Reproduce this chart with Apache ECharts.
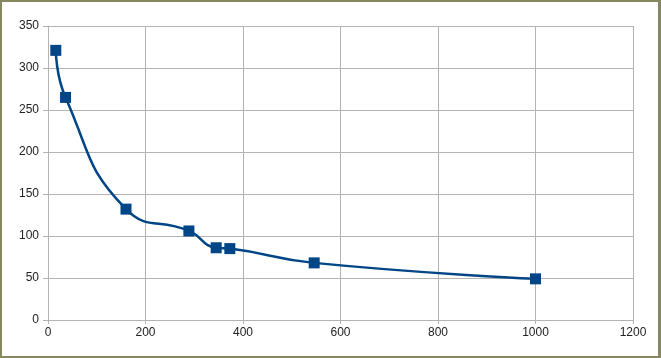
<!DOCTYPE html>
<html>
<head>
<meta charset="utf-8">
<script src="https://cdn.jsdelivr.net/npm/echarts@6/dist/echarts.min.js"></script>
<style>
html,body{margin:0;padding:0;background:#fff;}
#wrap{position:absolute;left:0;top:0;width:661px;height:358px;box-sizing:border-box;border:2px solid #878760;border-right-width:3px;}
#chart{position:absolute;left:-2px;top:-2px;width:661px;height:358px;}
</style>
</head>
<body>
<div id="wrap"><div id="chart"></div></div>
<script>
const xValues = [16, 36, 160, 289, 345, 373, 546, 1000];
const yValues = [321, 265, 132, 106, 86, 85, 68, 49];
const xTicks = {min: 0, max: 1200, interval: 200};
const yTicks = {min: 0, max: 350, interval: 50};

const chart = echarts.init(document.getElementById('chart'), null, {renderer: 'canvas'});
const gridLine = {show: true, lineStyle: {color: '#b3b3b3', width: 1}};
const labelStyle = {color: '#222', fontFamily: 'Liberation Sans, Arial, sans-serif', fontSize: 12};
chart.setOption({
  animation: false,
  backgroundColor: 'transparent',
  grid: {left: 48, right: 28, top: 26, bottom: 38, containLabel: false},
  xAxis: {
    type: 'value', min: xTicks.min, max: xTicks.max, interval: xTicks.interval,
    axisLine: {show: true, lineStyle: {color: '#b3b3b3'}},
    axisTick: {show: true, length: 4, lineStyle: {color: '#b3b3b3'}},
    splitLine: gridLine,
    axisLabel: Object.assign({margin: 7, formatter: v => String(v)}, labelStyle)
  },
  yAxis: {
    type: 'value', min: yTicks.min, max: yTicks.max, interval: yTicks.interval,
    axisLine: {show: true, lineStyle: {color: '#b3b3b3'}},
    axisTick: {show: true, length: 5, lineStyle: {color: '#b3b3b3'}},
    splitLine: gridLine,
    axisLabel: Object.assign({margin: 9, formatter: v => String(v)}, labelStyle)
  },
  series: [{
    type: 'line',
    data: xValues.map((x, i) => [x, yValues[i]]),
    smooth: 0.5,
    symbol: 'rect',
    symbolSize: 11,
    itemStyle: {color: '#004586'},
    lineStyle: {color: '#004586', width: 2.5}
  }]
});
</script>
</body>
</html>
